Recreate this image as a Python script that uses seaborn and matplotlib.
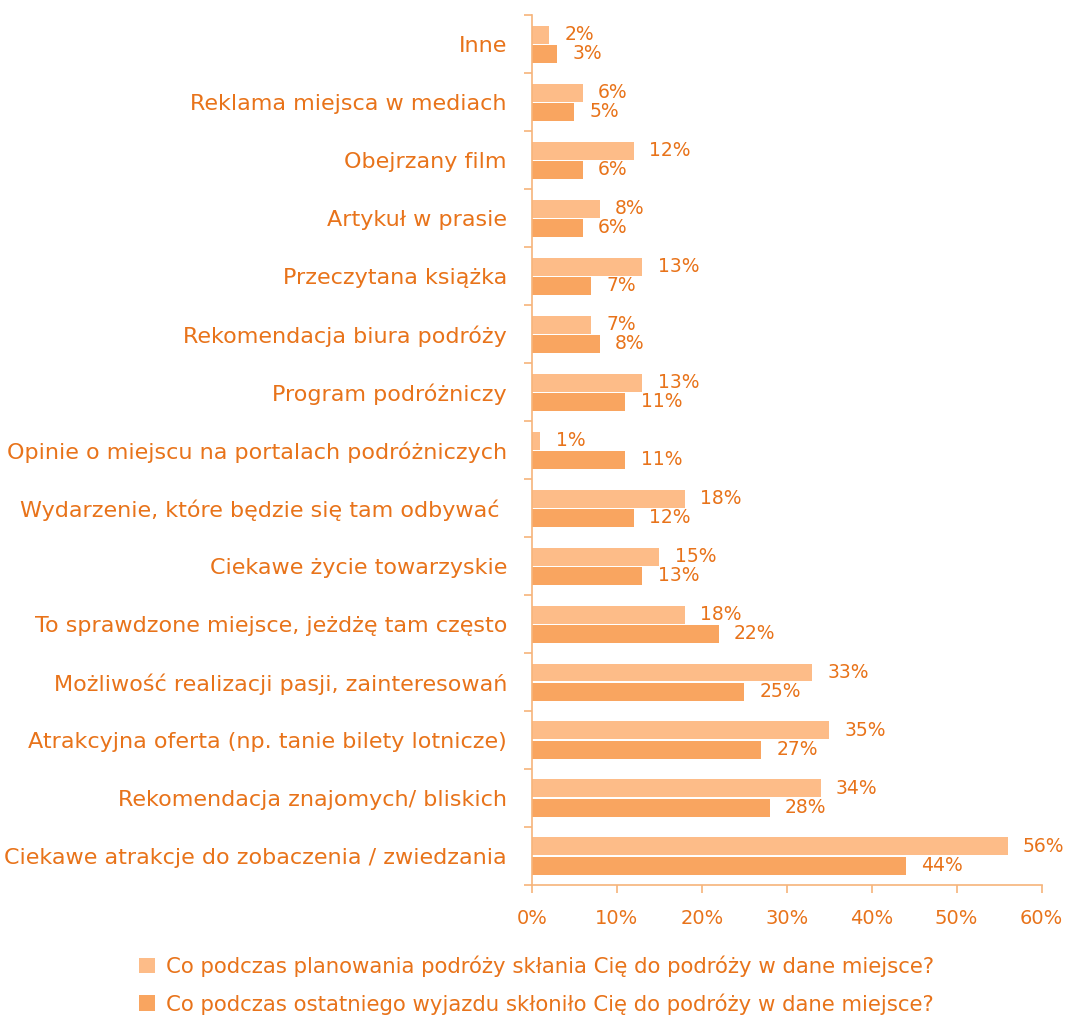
import pandas as pd
import seaborn as sns
import matplotlib.pyplot as plt
from matplotlib.ticker import FixedLocator, PercentFormatter

categories = [
    "Inne",
    "Reklama miejsca w mediach",
    "Obejrzany film",
    "Artykuł w prasie",
    "Przeczytana książka",
    "Rekomendacja biura podróży",
    "Program podróżniczy",
    "Opinie o miejscu na portalach podróżniczych",
    "Wydarzenie, które będzie się tam odbywać ",
    "Ciekawe życie towarzyskie",
    "To sprawdzone miejsce, jeżdżę tam często",
    "Możliwość realizacji pasji, zainteresowań",
    "Atrakcyjna oferta (np. tanie bilety lotnicze)",
    "Rekomendacja znajomych/ bliskich",
    "Ciekawe atrakcje do zobaczenia / zwiedzania",
]
planning = [2, 6, 12, 8, 13, 7, 13, 1, 18, 15, 18, 33, 35, 34, 56]
last_trip = [3, 5, 6, 6, 7, 8, 11, 11, 12, 13, 22, 25, 27, 28, 44]
series_names = [
    "Co podczas planowania podróży skłania Cię do podróży w dane miejsce?",
    "Co podczas ostatniego wyjazdu skłoniło Cię do podróży w dane miejsce?",
]

text_color = "#E8731A"
axis_color = "#F6B47A"
bar_colors = ["#FDBC88", "#F9A560"]

df = pd.DataFrame({
    "kategoria": categories * 2,
    "wartosc": planning + last_trip,
    "seria": [series_names[0]] * len(categories) + [series_names[1]] * len(categories),
})

sns.set_style("white")
plt.rcParams["font.family"] = ["DejaVu Sans"]

fig = plt.figure(figsize=(10.65, 10.19), dpi=100)
ax = fig.add_axes([0.4995, 0.1315, 0.4785, 0.8535])

sns.barplot(data=df, x="wartosc", y="kategoria", hue="seria", order=categories,
            hue_order=series_names, palette=bar_colors, orient="h", width=0.66,
            gap=0.06, saturation=1, linewidth=0, ax=ax, legend=True)

# data labels
for cont in ax.containers:
    labels = [f"{v:.0f}%" for v in cont.datavalues]
    ax.bar_label(cont, labels=labels, padding=11, color=text_color, fontsize=13.5)

ax.set_xlim(0, 60)
ax.set_ylim(len(categories) - 0.5, -0.5)
ax.set_xticks(range(0, 61, 10))
ax.xaxis.set_major_formatter(PercentFormatter(decimals=0))
ax.set_xlabel("")
ax.set_ylabel("")

ax.yaxis.set_minor_locator(FixedLocator([i + 0.5 for i in range(-1, len(categories))]))
ax.tick_params(axis="y", which="major", length=0, pad=18, labelsize=16, labelcolor=text_color)
ax.tick_params(axis="y", which="minor", length=6, color=axis_color, width=1.2, left=True)
ax.tick_params(axis="x", length=6, color=axis_color, width=1.2, bottom=True,
               labelsize=14, labelcolor=text_color, pad=11)

sns.despine(ax=ax, top=True, right=True)
ax.spines["left"].set_color(axis_color)
ax.spines["bottom"].set_color(axis_color)
ax.spines["left"].set_linewidth(1.2)
ax.spines["bottom"].set_linewidth(1.2)

handles, labels = ax.get_legend_handles_labels()
ax.get_legend().remove()
leg = fig.legend(handles, labels, loc="upper left", bbox_to_anchor=(0.113, 0.081),
                 frameon=False, fontsize=15.3, handlelength=0.75, handleheight=0.75,
                 labelspacing=0.75, handletextpad=0.5)
for t in leg.get_texts():
    t.set_color(text_color)

plt.savefig("out.png", dpi=100)
plt.close()
